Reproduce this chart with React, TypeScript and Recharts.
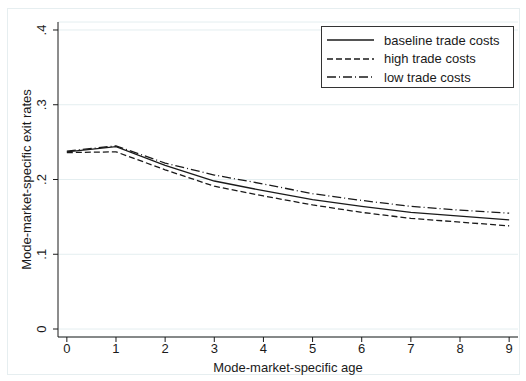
import React from "react";
import {
  LineChart,
  Line,
  CartesianGrid,
  XAxis,
  YAxis,
  Customized,
} from "recharts";

const ages = [0, 1, 2, 3, 4, 5, 6, 7, 8, 9];
const baseline = [0.237, 0.244, 0.219, 0.198, 0.185, 0.173, 0.164, 0.156, 0.151, 0.146];
const high = [0.236, 0.237, 0.213, 0.191, 0.178, 0.166, 0.156, 0.148, 0.143, 0.138];
const low = [0.238, 0.245, 0.222, 0.206, 0.194, 0.181, 0.172, 0.164, 0.159, 0.155];
const yTicks = [0, 0.1, 0.2, 0.3, 0.4];

const rows = ages.map((a, i) => ({
  age: a,
  baseline: baseline[i],
  high: high[i],
  low: low[i],
}));

const font = "'Liberation Sans', Arial, sans-serif";
const ink = "#1a1a1a";
const fs = 13;

const fmtY = (v: number) => (v === 0 ? "0" : String(v).replace(/^0/, ""));

const series = [
  { key: "baseline", label: "baseline trade costs", dash: undefined },
  { key: "high", label: "high trade costs", dash: "6 3" },
  { key: "low", label: "low trade costs", dash: "9 3 1 3" },
];

const YTick = (props: any) => {
  const { x, y, payload } = props;
  return (
    <text
      x={x - 5}
      y={y}
      transform={`rotate(-90, ${x - 5}, ${y})`}
      textAnchor="middle"
      fontSize={fs}
      fontFamily={font}
      fill={ink}
    >
      {fmtY(payload.value)}
    </text>
  );
};

const LegendBox = () => (
  <div
    style={{
      position: "absolute",
      left: 321,
      top: 26,
      width: 193,
      height: 62,
      border: "1px solid #333",
      background: "#fff",
      boxSizing: "border-box",
      paddingTop: 4,
    }}
  >
    {series.map((s) => (
      <div
        key={s.key}
        style={{ display: "flex", alignItems: "center", height: 18.5 }}
      >
        <svg width={62} height={10} style={{ flex: "none" }}>
          <line
            x1={5}
            x2={52}
            y1={5}
            y2={5}
            stroke={ink}
            strokeWidth={1.3}
            strokeDasharray={s.dash}
          />
        </svg>
        <span style={{ fontFamily: font, fontSize: fs, color: ink, whiteSpace: "nowrap" }}>
          {s.label}
        </span>
      </div>
    ))}
  </div>
);

const Frame = () => (
  <rect
    x={7.5}
    y={8.5}
    width={512}
    height={366}
    fill="none"
    stroke="#e6eef0"
    strokeWidth={1}
  />
);

export default function App() {
  return (
    <div style={{ position: "absolute", left: 0, top: 0, background: "#fff" }}>
      <LineChart
        width={526}
        height={381}
        data={rows}
        margin={{ top: 22, right: 8, bottom: 0, left: 8 }}
      >
        <Customized component={Frame} />
        <CartesianGrid vertical={false} stroke="#e4eef0" />
        <XAxis
          dataKey="age"
          type="number"
          domain={[-0.18, 9.18]}
          ticks={ages}
          allowDataOverflow
          height={44}
          stroke={ink}
          tickSize={5}
          tick={{ fontSize: fs, fontFamily: font, fill: ink }}
          label={{
            value: "Mode-market-specific age",
            position: "insideBottom",
            offset: 9,
            fontSize: fs,
            fontFamily: font,
            fill: ink,
          }}
        />
        <YAxis
          type="number"
          domain={[-0.0107, 0.4107]}
          ticks={yTicks}
          allowDataOverflow
          width={50}
          stroke={ink}
          tickSize={5}
          tick={<YTick />}
          label={{
            value: "Mode-market-specific exit rates",
            angle: -90,
            position: "insideLeft",
            offset: 0,
            dx: 18,
            style: { textAnchor: "middle" },
            fontSize: fs,
            fontFamily: font,
            fill: ink,
          }}
        />
        {series.map((s) => (
          <Line
            key={s.key}
            dataKey={s.key}
            name={s.label}
            stroke={ink}
            strokeWidth={1.3}
            strokeDasharray={s.dash}
            dot={false}
            isAnimationActive={false}
          />
        ))}
      </LineChart>
      <LegendBox />
    </div>
  );
}
